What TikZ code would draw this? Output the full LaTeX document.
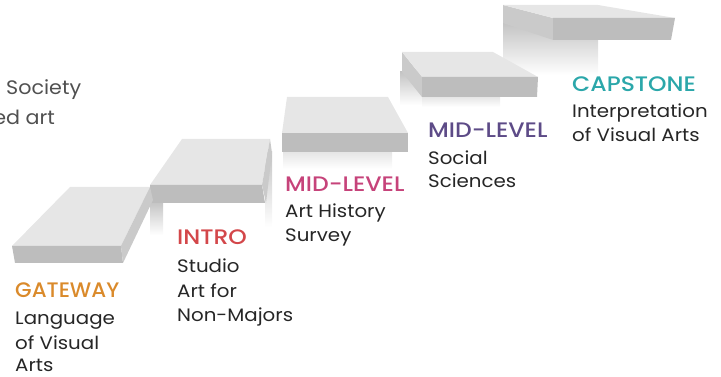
\documentclass[tikz,border=0pt]{standalone}
\usepackage{fontspec}
\setmainfont{Poppins}[FakeStretch=1.1]
\newfontfamily\headfont{Poppins Medium}[FakeStretch=1.12]
\newfontfamily\gatefont{Poppins Medium}[FakeStretch=1.02]
\newfontfamily\sidefont{Poppins}[FakeStretch=1.06]
\definecolor{topc}{HTML}{E6E6E6}
\definecolor{frontc}{HTML}{BDBDBD}
\definecolor{sidec}{HTML}{CACACA}
\definecolor{shadc}{HTML}{C4C4C4}
\definecolor{gatec}{HTML}{DA8A2B}
\definecolor{introc}{HTML}{D3474A}
\definecolor{pinkc}{HTML}{C6437A}
\definecolor{purpc}{HTML}{5D4B87}
\definecolor{tealc}{HTML}{2BA7AA}
\definecolor{bodyc}{HTML}{262626}
\definecolor{leftc}{HTML}{505050}
\tikzset{
  topface/.style={fill=topc},
  frontface/.style={fill=frontc},
  sideface/.style={fill=sidec},
  riser/.style={top color=shadc, bottom color=white, draw=none},
  head/.style={anchor=base west, inner sep=0pt, font=\headfont\fontsize{21}{24}\selectfont},
  body/.style={anchor=base west, inner sep=0pt, text=bodyc, font=\fontsize{18}{22}\selectfont},
  sidetext/.style={inner sep=0pt, text=leftc, font=\sidefont\fontsize{19.5}{22}\selectfont}
}
\begin{document}
\begin{tikzpicture}[x=1pt,y=1pt]
\useasboundingbox (0,0) rectangle (721,377);
% risers / shadows
\shade[riser] (503,302) rectangle (598,354);
\shade[riser] (400,272) rectangle (422,305);
\shade[riser, top color=topc] (422,270) rectangle (500,280);
\shade[riser, top color=topc] (283,208) rectangle (392,225);
\shade[riser] (150,142) rectangle (163,175);
\shade[riser] (265,150) rectangle (272,225);
% slab 5 (capstone)
\fill[sideface] (503,372) -- (553,359) -- (553,337) -- (503,354) -- cycle;
\fill[topface] (503,372) -- (598,372) -- (675,359) -- (553,359) -- cycle;
\fill[frontface] (553,359) -- (675,359) -- (671,337) -- (553,337) -- cycle;
% slab 4
\fill[sideface] (402,325) -- (422,300) -- (422,280) -- (402,305) -- cycle;
\fill[topface] (402,325) -- (493,325) -- (538,300) -- (422,300) -- cycle;
\fill[frontface] (422,300) -- (538,300) -- (537,280) -- (422,280) -- cycle;
% slab 3
\fill[topface] (287,280) -- (388,280) -- (408,244) -- (282,244) -- cycle;
\fill[frontface] (282,244) -- (408,244) -- (408,225) -- (282,225) -- cycle;
% slab 2
\fill[topface] (182,238) -- (270,238) -- (262,192) -- (150,192) -- cycle;
\fill[frontface] (150,192) -- (262,192) -- (265,174) -- (150,174) -- cycle;
\fill[sideface] (262,192) -- (270,238) -- (272,224) -- (266,174) -- cycle;
% slab 1 (gateway)
\fill[topface] (70,190) -- (150,190) -- (121,131) -- (12,131) -- cycle;
\fill[frontface] (12,131) -- (121,131) -- (123,114) -- (15,114) -- cycle;
\fill[sideface] (121,131) -- (150,190) -- (153,177) -- (123,114) -- cycle;
% cut-off text at left
\node[sidetext, anchor=base west] (s1) at (6,282) {Society};
\node[sidetext, anchor=base east] (s2) at (55,252) {ed art};
% labels
\node[head, text=gatec, font=\gatefont\fontsize{21}{24}\selectfont] (gate) at (15,79) {GATEWAY};
\node[body] (gate1) at (15,52) {Language};
\node[body] (gate2) at (15,27) {of Visual};
\node[body] (gate3) at (15,5) {Arts};
\node[head, text=introc] (intro) at (177,132) {INTRO};
\node[body] (intro1) at (177,104) {Studio};
\node[body] (intro2) at (177,79) {Art for};
\node[body] (intro3) at (177,55) {Non-Majors};
\node[head, text=pinkc] (mid1) at (285,185) {MID-LEVEL};
\node[body] (mid11) at (285,159) {Art History};
\node[body] (mid12) at (285,135) {Survey};
\node[head, text=purpc] (mid2) at (428,239) {MID-LEVEL};
\node[body] (mid21) at (428,212) {Social};
\node[body] (mid22) at (428,189) {Sciences};
\node[head, text=tealc] (cap) at (572,285) {CAPSTONE};
\node[body] (cap1) at (572,259) {Interpretation};
\node[body] (cap2) at (572,235) {of Visual Arts};
\end{tikzpicture}
\end{document}
